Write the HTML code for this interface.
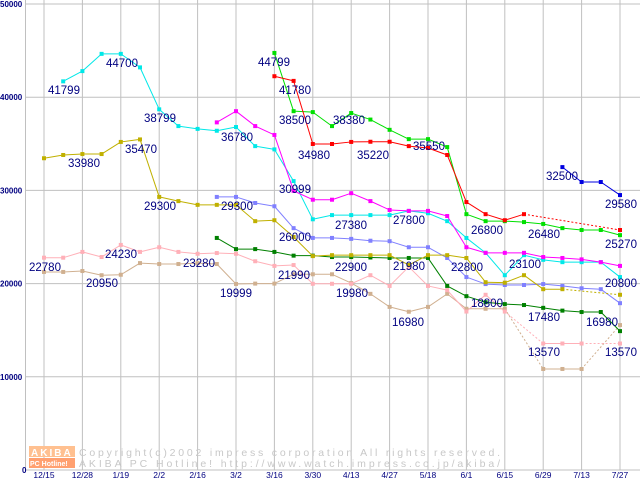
<!DOCTYPE html>
<html><head><meta charset="utf-8">
<style>
html,body{margin:0;padding:0;background:#fff;}
svg{display:block;}
text{font-family:"Liberation Sans",sans-serif;}
</style></head>
<body>
<svg id="chart" width="640" height="480" viewBox="0 0 640 480" xmlns="http://www.w3.org/2000/svg">
<g id="grid"></g>
<g id="watermark">
  <rect x="29" y="446" width="46" height="11" fill="#ffc090"/>
  <rect x="29" y="458" width="46" height="10" fill="#ffa070"/>
  <text x="31" y="456" font-size="10" fill="#fff" font-weight="bold" letter-spacing="2">AKIBA</text>
  <text x="30" y="466" font-size="7" fill="#fff" font-weight="bold">PC Hotline!</text>
  <text x="79" y="456" font-size="10.5" fill="#c8c8c8" font-family="Liberation Mono, monospace" textLength="421">Copyright(c)2002 impress corporation All rights reserved.</text>
  <text x="79" y="467" font-size="10.5" fill="#c8c8c8" font-family="Liberation Mono, monospace" textLength="421">AKIBA PC Hotline!  http://www.watch.impress.co.jp/akiba/</text>
</g>
<g id="axes"></g>
<g id="series"></g>
<g id="labels"></g>
</svg>
<script>
const xTickLabels=["12/15","12/28","1/19","2/2","2/16","3/2","3/16","3/30","4/13","4/27","5/18","6/1","6/15","6/29","7/13","7/27"];
const yTickValues=[0,10000,20000,30000,40000,50000];
const N=null;
const cyanValues=[N,41700,42800,44650,44650,43200,38700,36900,36600,36400,36800,34750,34400,31000,26900,27350,27350,27350,27350,27800,27550,26700,24900,23300,20900,23050,22550,22300,22300,22300,20700];
const magentaValues=[N,N,N,N,N,N,N,N,N,37300,38500,36900,35950,29950,29000,29000,29700,28850,27900,27800,27800,27250,23900,23300,23300,23300,22850,22750,22600,22300,21900];
const greenValues=[N,N,N,N,N,N,N,N,N,N,N,N,44750,38500,38400,36900,38300,37600,36500,35500,35500,34650,27450,26700,26700,26600,26400,25950,25750,25750,25200];
const redValues=[N,N,N,N,N,N,N,N,N,N,N,N,42250,41750,34980,34980,35200,35220,35220,34750,34550,33800,28750,27450,26800,27450,N,N,N,N,25750];
const blueValues=[N,N,N,N,N,N,N,N,N,N,N,N,N,N,N,N,N,N,N,N,N,N,N,N,N,N,N,32500,30900,30900,29500];
const oliveValues=[33450,33800,33900,33900,35200,35470,29300,28850,28450,28450,28450,26700,26800,25000,22950,23050,23050,23050,23050,22000,23050,23050,22750,20150,20100,20900,19400,19400,N,N,18800];
const purpleValues=[N,N,N,N,N,N,N,N,N,29300,29300,28650,28300,25950,24900,24900,24800,24600,24550,23900,23900,22750,20700,19950,19850,19850,19950,19750,19500,19400,17900];
const darkGreenValues=[N,N,N,N,N,N,N,N,N,24900,23700,23700,23400,23000,23000,22850,22850,22800,22750,22750,22750,19750,18650,18000,17800,17700,17400,17100,16950,16950,14900];
const pinkValues=[22780,22780,23400,22850,24150,23400,23900,23400,23200,23280,23200,22400,21900,21990,19980,19980,19980,20900,19750,21800,19750,19300,17000,18800,17000,N,13570,13570,13570,N,13570];
const tanValues=[21250,21250,21350,20900,20950,22200,22100,22100,22200,22100,19960,19999,19999,21000,21000,21000,20060,18900,17500,16980,17500,18900,17300,17300,17300,N,10840,10840,10840,N,15550];
const seriesList=[
 ["tan",tanValues,"#d0b090"],["pink",pinkValues,"#ffb0b8"],["dark-green",darkGreenValues,"#008000"],
 ["purple",purpleValues,"#8080ff"],["olive",oliveValues,"#c0b000"],["cyan",cyanValues,"#00e8e8"],
 ["magenta",magentaValues,"#ff00ff"],["green",greenValues,"#00e000"],["red",redValues,"#ff0000"],["blue",blueValues,"#0000e0"]];
const labelTexts=["41799","44700","38799","36780","33980","35470","29300","29300","44799","41780","38500","34980","38380","35220","35550","30999","27380","27800","26000","22900","21980","22780","20950","24230","23280","19999","21990","19980","16980","26800","26480","25270","32500","29580","22800","23100","20800","18800","17480","16980","13570","13570"];
const labelPos=[[48,94],[106,67],[144,122],[221,141],[68,167],[125,153],[144,210],[221,210],[258,66],[279,94],[279,124],[298,159],[333,124],[357,159],[413,150],[279,193],[335,229],[393,224],[279,241],[335,271],[393,270],[29,271],[86,287],[105,258],[183,267],[220,297],[278,279],[336,297],[392,326],[471,234],[528,238],[605,248],[546,180],[605,208],[451,271],[509,268],[605,287],[471,307],[528,321],[586,326],[528,356],[605,356]];

const NS="http://www.w3.org/2000/svg";
const X0=44,DX=19.2,Y0=470,YTOP=4,VMAX=50000;
function xs(i){return X0+DX*i;}
function ys(v){return Y0-(Y0-YTOP)*v/VMAX;}
function mk(tag,attrs,parent){const e=document.createElementNS(NS,tag);for(const k in attrs)e.setAttribute(k,attrs[k]);parent.appendChild(e);return e;}
const grid=document.getElementById('grid'),axes=document.getElementById('axes'),ser=document.getElementById('series'),lab=document.getElementById('labels');
yTickValues.forEach(v=>{
  const l=mk('line',{x1:25,x2:640,y1:ys(v),y2:ys(v),stroke:'#c0c0c0','stroke-width':1},grid);
  
  
  const t=mk('text',{x:v===0?22:0,y:ys(v)+3,'font-size':8,'font-weight':'bold',fill:'#000080'},axes);
  
  
  t.textContent=v;
});
const ax=mk('line',{x1:25.5,x2:25.5,y1:0,y2:470,stroke:'#c0c0c0'},grid);


xTickLabels.forEach((s,k)=>{
  const x=xs(k*2);
  const l=mk('line',{x1:x,x2:x,y1:0,y2:470,stroke:'#c0c0c0','stroke-width':1},grid);
  
  
  const t=mk('text',{x:x,y:478,'font-size':8.5,fill:'#000080','text-anchor':'middle'},axes);
  
  
  t.textContent=s;
});
seriesList.forEach(([name,vals,col])=>{
  const g=mk('g',{},ser);
  
  
  let prev=-1;
  for(let i=0;i<vals.length;i++){
    if(vals[i]===null)continue;
    if(prev>=0){
      const seg=mk('line',{x1:xs(prev),y1:ys(vals[prev]),x2:xs(i),y2:ys(vals[i]),stroke:col,'stroke-width':1},g);
      if(i-prev>1)seg.setAttribute('stroke-dasharray','2,2');
      
      
    }
    prev=i;
  }
  vals.forEach((v,i)=>{
    if(v===null)return;
    const r=mk('rect',{x:xs(i)-2,y:ys(v)-2,width:4,height:4,fill:col},g);
    
    
  });
});
labelTexts.forEach((s,i)=>{
  const t=mk('text',{x:labelPos[i][0],y:labelPos[i][1],'font-size':11.5,fill:'#000080'},lab);
  
  
  t.textContent=s;
});
</script>
</body></html>
